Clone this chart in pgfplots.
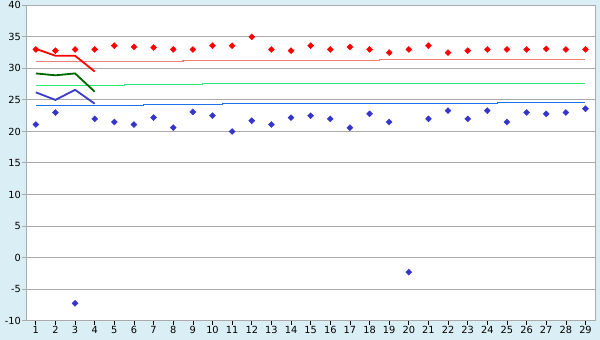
\documentclass[border=0pt]{standalone}
\usepackage{pgfplots}
\pgfplotsset{compat=1.18}
\usepackage{fontspec}
\setmainfont{DejaVu Sans}
\definecolor{bg}{HTML}{DAEFF5}
\definecolor{gridc}{HTML}{AAAAAA}
\definecolor{ptblue}{HTML}{3535CC}
\definecolor{lred}{HTML}{F08080}
\definecolor{lgreen}{HTML}{2EE880}
\definecolor{lblue}{HTML}{1A73E8}
\definecolor{dgreen}{HTML}{006600}
\definecolor{tblue}{HTML}{3B3BCC}
\begin{document}
\begin{tikzpicture}[x=1pt,y=1pt]
\fill[bg] (0,0) rectangle (600,340);
\useasboundingbox (0,0) rectangle (600,340);
\begin{axis}[
  at={(26pt,19.3pt)}, anchor=south west,
  scale only axis, width=569.3pt, height=315.4pt,
  axis background/.style={fill=white},
  xmin=0.5, xmax=29.5, ymin=-10, ymax=40,
  xtick={1,...,29}, ytick={-10,-5,...,40},
  ymajorgrids, grid style={gridc, line width=1pt},
  axis line style={gridc, line width=1pt},
  tick pos=left, tick align=outside, major tick length=4pt,
  x tick style={black, line width=0.7pt},
  y tick style={gridc, line width=1pt},
  tick label style={font=\fontsize{9.8}{12}\selectfont},
  xticklabel style={inner sep=1pt},
  yticklabel style={inner sep=1pt},
  /pgf/number format/assume math mode=true,
  clip=false,
]
% thin reference lines
\addplot[const plot mark mid, lred, line width=1.2pt] coordinates {
(1,31.05)(2,31.05)(3,31.05)(4,31.05)(5,31.05)(6,31.05)(7,31.05)(8,31.05)
(9,31.21)(10,31.21)(11,31.21)(12,31.21)(13,31.21)(14,31.21)(15,31.21)(16,31.21)(17,31.21)(18,31.21)
(19,31.37)(20,31.37)(21,31.37)(22,31.37)(23,31.37)(24,31.37)(25,31.37)(26,31.37)(27,31.37)(28,31.37)(29,31.37)};
\addplot[const plot mark mid, lgreen, line width=1.2pt] coordinates {
(1,27.25)(2,27.25)(3,27.25)(4,27.25)(5,27.25)
(6,27.41)(7,27.41)(8,27.41)(9,27.41)
(10,27.57)(11,27.57)(12,27.57)(13,27.57)(14,27.57)(15,27.57)(16,27.57)(17,27.57)(18,27.57)(19,27.57)
(20,27.57)(21,27.57)(22,27.57)(23,27.57)(24,27.57)(25,27.57)(26,27.57)(27,27.57)(28,27.57)(29,27.57)};
\addplot[const plot mark mid, lblue, line width=1.2pt] coordinates {
(1,24.08)(2,24.08)(3,24.08)(4,24.08)(5,24.08)(6,24.08)
(7,24.24)(8,24.24)(9,24.24)(10,24.24)
(11,24.4)(12,24.4)(13,24.4)(14,24.4)(15,24.4)(16,24.4)(17,24.4)(18,24.4)(19,24.4)(20,24.4)(21,24.4)(22,24.4)(23,24.4)(24,24.4)
(25,24.56)(26,24.56)(27,24.56)(28,24.56)(29,24.56)};
% thick lines
\addplot[red, line width=1.8pt] coordinates {(1,33.1)(2,32.0)(3,32.0)(4,29.5)};
\addplot[dgreen, line width=1.8pt] coordinates {(1,29.2)(2,28.9)(3,29.2)(4,26.3)};
\addplot[tblue, line width=1.8pt] coordinates {(1,26.2)(2,25.0)(3,26.6)(4,24.4)};
% points
\addplot[only marks, mark=diamond*, mark size=3pt, red, mark options={xscale=1.33}] coordinates {
(1,33.0)(2,32.8)(3,33.0)(4,33.0)(5,33.6)(6,33.4)(7,33.3)(8,33.0)(9,33.0)(10,33.6)
(11,33.6)(12,35.0)(13,33.0)(14,32.8)(15,33.6)(16,33.0)(17,33.4)(18,33.0)(19,32.5)(20,33.0)
(21,33.6)(22,32.5)(23,32.8)(24,33.0)(25,33.0)(26,33.0)(27,33.1)(28,33.0)(29,33.0)};
\addplot[only marks, mark=diamond*, mark size=3pt, ptblue, mark options={xscale=1.33}] coordinates {
(1,21.1)(2,23.0)(3,-7.25)(4,22.0)(5,21.5)(6,21.1)(7,22.2)(8,20.6)(9,23.1)(10,22.5)
(11,20.0)(12,21.7)(13,21.1)(14,22.2)(15,22.5)(16,22.0)(17,20.6)(18,22.8)(19,21.5)(20,-2.3)
(21,22.0)(22,23.3)(23,22.0)(24,23.3)(25,21.5)(26,23.0)(27,22.8)(28,23.0)(29,23.6)};
\end{axis}
\end{tikzpicture}
\end{document}
